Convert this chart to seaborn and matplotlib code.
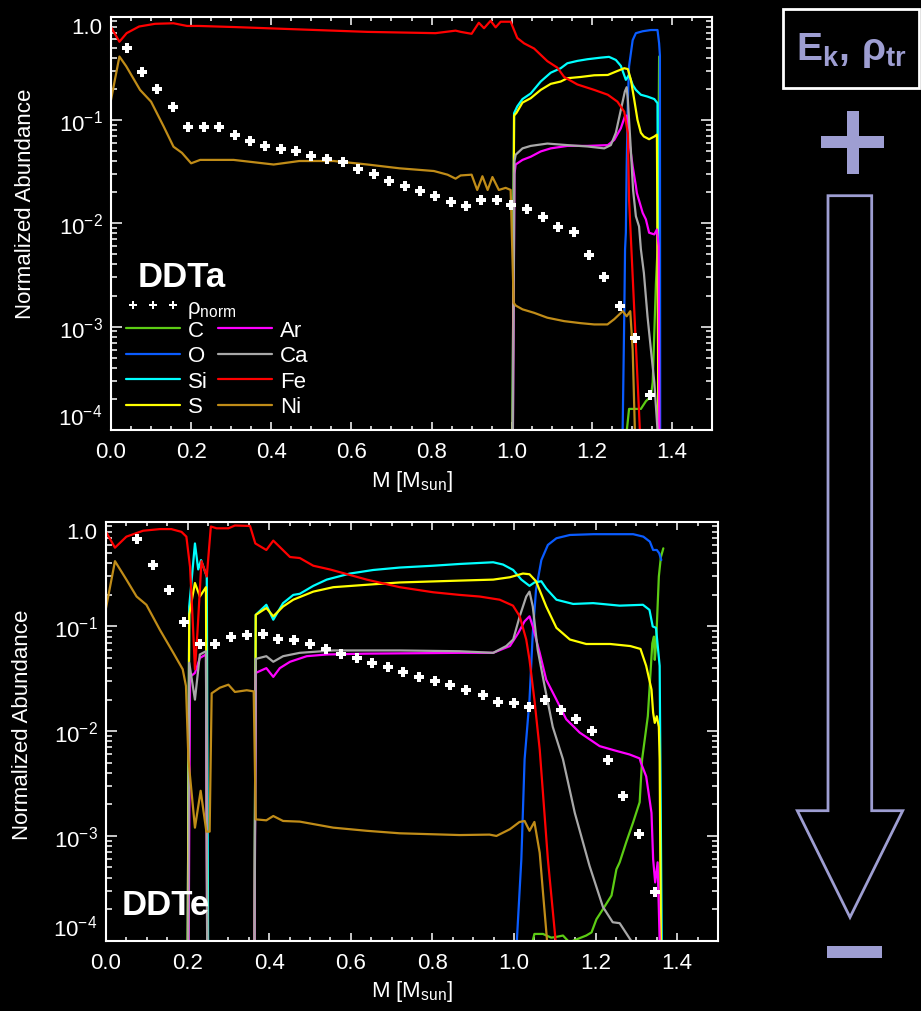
import numpy as np
import matplotlib
matplotlib.use("Agg")
import matplotlib.pyplot as plt
import seaborn as sns
from matplotlib.ticker import MultipleLocator, LogLocator, FuncFormatter, NullFormatter
from matplotlib.lines import Line2D
from matplotlib.patches import Rectangle, Polygon

# ---------------- data: DDTa (top panel) ----------------
a_C_x = [1.28, 1.2875, 1.293, 1.3225, 1.335, 1.3475, 1.352, 1.356, 1.36, 1.364, 1.367, 1.368]
a_C_y = [1e-6, 1e-4, 0.00016, 0.00016, 0.00019, 0.00021, 0.00029, 0.00087, 0.0026, 0.0056, 0.1, 0.41]

a_O_x = [1.27, 1.277, 1.281, 1.283, 1.285, 1.287, 1.29, 1.293, 1.302, 1.31, 1.327, 1.3475, 1.364, 1.368, 1.37, 1.371]
a_O_y = [1e-6, 1e-4, 0.00126, 0.0056, 0.0081, 0.035, 0.156, 0.33, 0.59, 0.69, 0.72, 0.74, 0.74, 0.55, 0.42, 1e-6]

a_Si_x = [1.0, 1.006, 1.014, 1.027, 1.0475, 1.0725, 1.0975, 1.1225, 1.139, 1.164, 1.189, 1.2225, 1.243,
          1.26, 1.2725, 1.285, 1.293, 1.302, 1.31, 1.3225, 1.339, 1.356, 1.364, 1.369]
a_Si_y = [1e-6, 0.116, 0.135, 0.159, 0.18, 0.235, 0.286, 0.316, 0.353, 0.372, 0.386, 0.40, 0.407,
          0.38, 0.333, 0.244, 0.272, 0.218, 0.195, 0.175, 0.168, 0.159, 0.145, 1e-6]

a_S_x = [1.0, 1.006, 1.012, 1.027, 1.0475, 1.0725, 1.0975, 1.1225, 1.139, 1.172, 1.206, 1.24, 1.26,
         1.281, 1.29, 1.2975, 1.306, 1.314, 1.3225, 1.33, 1.343, 1.356, 1.3625, 1.369]
a_S_y = [1e-6, 0.11, 0.117, 0.147, 0.162, 0.195, 0.223, 0.235, 0.253, 0.26, 0.27, 0.272, 0.293,
         0.316, 0.31, 0.244, 0.156, 0.10, 0.075, 0.069, 0.065, 0.069, 0.072, 1e-6]

a_Ar_x = [1.0, 1.007, 1.01, 1.027, 1.0475, 1.0725, 1.0975, 1.139, 1.189, 1.24, 1.256, 1.2725, 1.2825,
          1.287, 1.293, 1.302, 1.31, 1.3125, 1.327, 1.335, 1.343, 1.356, 1.3625, 1.367, 1.37]
a_Ar_y = [1e-6, 0.03, 0.037, 0.041, 0.044, 0.0495, 0.053, 0.056, 0.056, 0.057, 0.064, 0.083, 0.108,
          0.11, 0.064, 0.0355, 0.023, 0.0196, 0.0126, 0.0109, 0.0081, 0.0078, 0.0087, 0.006, 1e-6]

a_Ca_x = [1.0, 1.007, 1.01, 1.027, 1.0475, 1.089, 1.139, 1.189, 1.231, 1.2475, 1.26, 1.2725, 1.2825,
          1.287, 1.29, 1.2975, 1.303, 1.31, 1.318, 1.3225, 1.33, 1.339, 1.3475, 1.356, 1.364, 1.37]
a_Ca_y = [1e-6, 0.04, 0.046, 0.053, 0.056, 0.059, 0.057, 0.0553, 0.053, 0.057, 0.075, 0.125, 0.188,
          0.207, 0.156, 0.051, 0.021, 0.0117, 0.0093, 0.0056, 0.0033, 0.00126, 0.0006, 0.00029, 1e-4, 1e-6]

a_Fe_x = [0.0, 0.021, 0.039, 0.07, 0.11, 0.156, 0.19, 0.22, 0.31, 0.47, 0.64, 0.81, 0.86, 0.873, 0.90,
          0.918, 0.931, 0.9475, 0.96, 0.9725, 0.9975, 1.014, 1.031, 1.056, 1.089, 1.114, 1.131, 1.164,
          1.206, 1.24, 1.264, 1.281, 1.29, 1.293, 1.32, 1.33]
a_Fe_y = [0.79, 0.57, 0.69, 0.80, 0.85, 0.86, 0.81, 0.81, 0.79, 0.75, 0.71, 0.69, 0.73, 0.71, 0.68,
          0.87, 0.77, 0.91, 0.785, 0.89, 0.89, 0.62, 0.55, 0.49, 0.37, 0.32, 0.26, 0.22,
          0.195, 0.175, 0.15, 0.12, 0.074, 0.017, 1e-4, 1e-6]

a_Ni_x = [0.0, 0.021, 0.038, 0.0725, 0.10, 0.131, 0.156, 0.177, 0.20, 0.2225, 0.306, 0.406, 0.47, 0.556,
          0.64, 0.72, 0.806, 0.84, 0.86, 0.8725, 0.90, 0.914, 0.927, 0.94, 0.952, 0.968, 0.985, 0.9975,
          1.005, 1.01, 1.027, 1.056, 1.089, 1.131, 1.1725, 1.206, 1.239, 1.256, 1.277, 1.287, 1.296,
          1.302, 1.3075, 1.315]
a_Ni_y = [0.156, 0.41, 0.33, 0.195, 0.15, 0.087, 0.055, 0.048, 0.038, 0.041, 0.041, 0.037, 0.040, 0.040,
          0.037, 0.034, 0.032, 0.0295, 0.027, 0.029, 0.0295, 0.021, 0.0285, 0.021, 0.028, 0.021, 0.022, 0.021,
          0.0017, 0.0016, 0.00147, 0.00136, 0.00122, 0.00113, 0.00108, 0.00105, 0.00105, 0.00118, 0.00141,
          0.00126, 0.00141, 0.0006, 1e-4, 1e-6]

a_rho_x = [0.039, 0.078, 0.116, 0.154, 0.193, 0.232, 0.27, 0.31, 0.3475, 0.385, 0.424, 0.462, 0.50,
           0.539, 0.578, 0.617, 0.656, 0.694, 0.733, 0.77, 0.808, 0.8475, 0.885, 0.924, 0.9625, 0.999,
           1.039, 1.077, 1.116, 1.156, 1.193, 1.231, 1.271, 1.308, 1.346]
a_rho_y = [0.50, 0.293, 0.198, 0.133, 0.085, 0.085, 0.085, 0.072, 0.062, 0.056, 0.0525, 0.0495, 0.045,
           0.042, 0.039, 0.0337, 0.030, 0.0255, 0.0228, 0.0204, 0.0182, 0.0161, 0.0148, 0.0167, 0.0167,
           0.015, 0.0136, 0.0115, 0.0092, 0.0082, 0.0049, 0.0030, 0.0016, 0.00077, 0.00022]

# ---------------- data: DDTe (bottom panel) ----------------
e_C_x = [1.04, 1.046, 1.05, 1.071, 1.091, 1.1, 1.12, 1.132, 1.138, 1.145, 1.177, 1.19, 1.202, 1.218,
         1.239, 1.251, 1.259, 1.275, 1.292, 1.308, 1.314, 1.328, 1.339, 1.343, 1.345, 1.348, 1.355,
         1.36, 1.366]
e_C_y = [1e-6, 1e-4, 0.000116, 0.000116, 0.000107, 0.000108, 0.000112, 1e-4, 6e-5, 1e-4, 0.000112,
         0.00012, 0.00016, 0.0002, 0.00027, 0.00048, 0.00056, 0.00087, 0.00135, 0.0021, 0.0054, 0.0139,
         0.069, 0.08, 0.048, 0.065, 0.30, 0.46, 0.557]

e_O_x = [1.0, 1.007, 1.018, 1.026, 1.038, 1.046, 1.054, 1.067, 1.083, 1.104, 1.137, 1.194, 1.292,
         1.317, 1.333, 1.341, 1.35, 1.356, 1.361]
e_O_y = [1e-6, 1e-4, 0.0006, 0.0054, 0.02, 0.086, 0.224, 0.43, 0.60, 0.695, 0.747, 0.76, 0.76,
         0.72, 0.645, 0.537, 0.537, 0.50, 0.43]

e_Si_x = [0.198, 0.204, 0.218, 0.226, 0.233, 0.247, 0.252, 0.362, 0.367, 0.393, 0.41, 0.434, 0.459,
          0.475, 0.508, 0.541, 0.598, 0.655, 0.72, 0.802, 0.867, 0.949, 0.973, 0.998, 1.018, 1.038,
          1.05, 1.067, 1.079, 1.104, 1.145, 1.194, 1.259, 1.316, 1.332, 1.34, 1.348, 1.357, 1.362, 1.365]
e_Si_y = [1e-6, 0.155, 0.62, 0.35, 0.43, 0.30, 1e-6, 1e-6, 0.129, 0.161, 0.116, 0.167, 0.20,
          0.205, 0.244, 0.28, 0.32, 0.346, 0.365, 0.38, 0.395, 0.41, 0.39, 0.346, 0.28, 0.244,
          0.263, 0.27, 0.23, 0.18, 0.164, 0.167, 0.158, 0.161, 0.144, 0.10, 0.097, 0.042, 1e-4, 1e-6]

e_S_x = [0.198, 0.204, 0.218, 0.23, 0.245, 0.25, 0.362, 0.367, 0.393, 0.41, 0.434, 0.459, 0.508,
         0.557, 0.639, 0.72, 0.867, 0.949, 0.99, 1.022, 1.038, 1.054, 1.079, 1.104, 1.137, 1.177,
         1.236, 1.285, 1.31, 1.324, 1.337, 1.341, 1.345, 1.35, 1.355, 1.357, 1.36, 1.363]
e_S_y = [1e-6, 0.13, 0.26, 0.193, 0.237, 1e-6, 1e-6, 0.129, 0.15, 0.125, 0.155, 0.18, 0.215,
         0.237, 0.25, 0.263, 0.274, 0.28, 0.295, 0.32, 0.315, 0.27, 0.155, 0.097, 0.075, 0.068,
         0.068, 0.065, 0.061, 0.042, 0.025, 0.015, 0.012, 0.0139, 0.011, 0.0054, 1e-4, 1e-6]

e_Ar_x = [0.2, 0.206, 0.218, 0.23, 0.245, 0.25, 0.362, 0.367, 0.393, 0.41, 0.426, 0.451, 0.492, 0.541,
          0.639, 0.867, 0.949, 0.99, 1.01, 1.026, 1.038, 1.046, 1.063, 1.079, 1.104, 1.128, 1.161,
          1.21, 1.25, 1.283, 1.308, 1.311, 1.324, 1.337, 1.341, 1.346, 1.352, 1.357, 1.36]
e_Ar_y = [1e-6, 0.033, 0.036, 0.05, 0.054, 1e-6, 1e-6, 0.036, 0.04, 0.033, 0.04, 0.046, 0.052, 0.054,
          0.055, 0.056, 0.056, 0.065, 0.086, 0.112, 0.125, 0.10, 0.056, 0.031, 0.02, 0.013, 0.0097,
          0.0072, 0.0065, 0.006, 0.0055, 0.005, 0.0037, 0.00166, 0.0006, 0.00036, 0.00056, 1e-4, 1e-6]

e_Ca_x = [0.2, 0.204, 0.218, 0.23, 0.245, 0.25, 0.362, 0.367, 0.393, 0.41, 0.434, 0.475, 0.557, 0.72,
          0.867, 0.949, 0.981, 0.998, 1.014, 1.03, 1.038, 1.046, 1.058, 1.075, 1.095, 1.12, 1.149,
          1.185, 1.218, 1.242, 1.259, 1.287, 1.295]
e_Ca_y = [1e-6, 0.045, 0.02, 0.054, 0.058, 1e-6, 1e-6, 0.049, 0.052, 0.046, 0.052, 0.056, 0.059, 0.059,
          0.058, 0.056, 0.065, 0.075, 0.125, 0.193, 0.215, 0.155, 0.06, 0.027, 0.011, 0.0054, 0.00166,
          0.00052, 0.00021, 0.00015, 0.000147, 1e-4, 1e-6]

e_Fe_x = [0.0, 0.022, 0.05, 0.091, 0.132, 0.16, 0.185, 0.197, 0.206, 0.212, 0.218, 0.224, 0.234, 0.247,
          0.257, 0.271, 0.30, 0.316, 0.353, 0.366, 0.393, 0.41, 0.451, 0.475, 0.508, 0.549, 0.598,
          0.639, 0.72, 0.802, 0.867, 0.916, 0.965, 0.9975, 1.014, 1.03, 1.038, 1.05, 1.063, 1.083,
          1.102, 1.11]
e_Fe_y = [0.80, 0.565, 0.72, 0.82, 0.85, 0.85, 0.80, 0.72, 0.37, 0.125, 0.039, 0.086, 0.42, 0.30,
          0.90, 0.865, 0.865, 0.92, 0.91, 0.62, 0.537, 0.66, 0.46, 0.45, 0.38, 0.35, 0.31,
          0.28, 0.237, 0.212, 0.20, 0.193, 0.18, 0.158, 0.125, 0.075, 0.048, 0.02, 0.0067, 0.0006,
          1e-4, 1e-6]

e_Ni_x = [0.0, 0.022, 0.05, 0.075, 0.099, 0.132, 0.165, 0.188, 0.196, 0.202, 0.218, 0.232, 0.246, 0.254,
          0.259, 0.279, 0.30, 0.316, 0.345, 0.362, 0.367, 0.393, 0.41, 0.434, 0.475, 0.557, 0.639,
          0.72, 0.867, 0.94, 0.957, 0.99, 1.0135, 1.026, 1.038, 1.05, 1.063, 1.071, 1.081, 1.09]
e_Ni_y = [0.15, 0.42, 0.28, 0.193, 0.161, 0.093, 0.056, 0.039, 0.027, 0.0054, 0.0012, 0.0027, 0.0011,
          0.0011, 0.023, 0.026, 0.0278, 0.0237, 0.0246, 0.024, 0.00144, 0.00141, 0.00155, 0.00139,
          0.00137, 0.0012, 0.00112, 0.00106, 0.00102, 0.00103, 0.001, 0.00116, 0.00136, 0.00139,
          0.00112, 0.00136, 0.00069, 0.00029, 1e-4, 1e-6]

e_rho_x = [0.075, 0.114, 0.154, 0.191, 0.23, 0.268, 0.307, 0.346, 0.385, 0.422, 0.46, 0.499, 0.538,
           0.577, 0.615, 0.653, 0.691, 0.729, 0.767, 0.806, 0.844, 0.883, 0.923, 0.96, 1.0, 1.037,
           1.077, 1.115, 1.153, 1.192, 1.23, 1.268, 1.306, 1.345]
e_rho_y = [0.68, 0.39, 0.224, 0.11, 0.068, 0.068, 0.0785, 0.083, 0.0846, 0.076, 0.0735, 0.068, 0.061,
           0.055, 0.050, 0.045, 0.0407, 0.0368, 0.033, 0.030, 0.0274, 0.0246, 0.0224, 0.0189, 0.0184,
           0.017, 0.02, 0.0161, 0.0131, 0.01, 0.0053, 0.0024, 0.00104, 0.00029]

elements = ["C", "O", "Si", "S", "Ar", "Ca", "Fe", "Ni"]
element_colors = ["#5ccc14", "#0a5cff", "#00ffff", "#ffff00", "#ff00ff", "#a8a8a8", "#ff0000", "#c08c18"]
x_ticks = [0.0, 0.2, 0.4, 0.6, 0.8, 1.0, 1.2, 1.4]
panel_names = ["DDTa", "DDTe"]

panel_a = {"C": (a_C_x, a_C_y), "O": (a_O_x, a_O_y), "Si": (a_Si_x, a_Si_y), "S": (a_S_x, a_S_y),
           "Ar": (a_Ar_x, a_Ar_y), "Ca": (a_Ca_x, a_Ca_y), "Fe": (a_Fe_x, a_Fe_y), "Ni": (a_Ni_x, a_Ni_y)}
panel_e = {"C": (e_C_x, e_C_y), "O": (e_O_x, e_O_y), "Si": (e_Si_x, e_Si_y), "S": (e_S_x, e_S_y),
           "Ar": (e_Ar_x, e_Ar_y), "Ca": (e_Ca_x, e_Ca_y), "Fe": (e_Fe_x, e_Fe_y), "Ni": (e_Ni_x, e_Ni_y)}

# ---------------- style ----------------
sns.set_style("ticks")
plt.rcParams["font.family"] = ["Liberation Sans", "DejaVu Sans"]
plt.rcParams["mathtext.fontset"] = "custom"
plt.rcParams["mathtext.rm"] = "Liberation Sans"
plt.rcParams["mathtext.it"] = "Liberation Sans:italic"
plt.rcParams["mathtext.bf"] = "Liberation Sans:bold"

W, H = 921, 1012
fig = plt.figure(figsize=(W / 100, H / 100), dpi=100, facecolor="black")


def fx(px):
    return px / W


def fy(py):
    return 1 - py / H


axA = fig.add_axes([fx(111), fy(431), (712 - 111) / W, (431 - 17.5) / H])
axE = fig.add_axes([fx(106), fy(941.7), (718 - 106) / W, (941.7 - 522.7) / H])

FS = 16


def yfmt(v, pos):
    if abs(v - 1.0) < 1e-9:
        return "1.0"
    return r"10$^{%d}$" % int(round(np.log10(v)))


def style_axes(ax, ylab_xy):
    ax.set_facecolor("black")
    ax.set_yscale("log")
    ax.set_xlim(0, 1.5)
    ax.set_ylim(1e-4, 1.0)
    for sp in ax.spines.values():
        sp.set_color("white")
        sp.set_linewidth(1.5)
        sp.set_visible(True)
    ax.set_xticks(x_ticks)
    ax.xaxis.set_minor_locator(MultipleLocator(0.05))
    ax.xaxis.set_major_formatter(FuncFormatter(lambda v, p: "%.1f" % v))
    ax.yaxis.set_major_locator(LogLocator(base=10, numticks=10))
    ax.yaxis.set_minor_locator(LogLocator(base=10, subs=np.arange(2, 10), numticks=10))
    ax.yaxis.set_major_formatter(FuncFormatter(yfmt))
    ax.yaxis.set_minor_formatter(NullFormatter())
    ax.tick_params(which="both", direction="in", top=True, right=True, colors="white",
                   labelsize=FS, width=1.1)
    ax.tick_params(axis="x", which="major", length=5.8, pad=8)
    ax.tick_params(axis="x", which="minor", length=2.9)
    ax.tick_params(axis="y", which="major", length=8.0, pad=6)
    ax.tick_params(axis="y", which="minor", length=4.3)
    ax.set_xlabel(r"M [M$_{\rm sun}$]", color="white", fontsize=FS, labelpad=4)
    ax.set_ylabel("Normalized Abundance", color="white", fontsize=FS)
    ax.yaxis.set_label_coords(*ylab_xy)


def draw_panel(ax, data, rho_x, rho_y):
    for name, col in zip(elements, element_colors):
        xs, ys = data[name]
        sns.lineplot(x=xs, y=ys, color=col, lw=1.6, estimator=None, sort=False,
                     legend=False, ax=ax, label=name)
    sns.scatterplot(x=rho_x, y=rho_y, marker="P", s=50, color="white", linewidth=0,
                    legend=False, ax=ax, zorder=10)


style_axes(axA, (-0.125, 0.55))
style_axes(axE, (-0.119, 0.517))
draw_panel(axA, panel_a, a_rho_x, a_rho_y)
draw_panel(axE, panel_e, e_rho_x, e_rho_y)
for ax in (axA, axE):
    ax.set_xlim(0, 1.5)
    ax.set_ylim(1e-4, 1.0)

axA.text(0.045, 0.348, panel_names[0], transform=axA.transAxes, fontsize=25,
         fontweight="bold", color="white", va="baseline")
axE.text(0.026, 0.064, panel_names[1], transform=axE.transAxes, fontsize=25,
         fontweight="bold", color="white", va="baseline")

# legends (top panel)
rho_handle = Line2D([], [], ls="none", marker="P", markersize=5.5, color="white", mew=0)
leg1 = axA.legend([rho_handle], [r"ρ$_{\rm norm}$"], loc="upper left",
                  bbox_to_anchor=(0.025, 0.322), frameon=False, fontsize=FS, numpoints=3,
                  handlelength=2.43, handletextpad=0.3, borderpad=0, borderaxespad=0,
                  labelcolor="white")
axA.add_artist(leg1)
line_handles = [Line2D([], [], color=c, lw=1.6) for c in element_colors]
axA.legend(line_handles, elements, loc="upper left", bbox_to_anchor=(0.025, 0.266),
           ncol=2, frameon=False, fontsize=FS, handlelength=2.43, handletextpad=0.36,
           columnspacing=0.45, labelspacing=0.2, borderpad=0, borderaxespad=0,
           labelcolor="white")

# ---------------- right-hand annotation ----------------
LAV = "#9e9ed2"
fig.add_artist(Rectangle((fx(783), fy(89)), (919 - 783) / W, (89 - 10) / H,
                         transform=fig.transFigure, fill=False, edgecolor="white", lw=2.0))
fig.text(fx(851), fy(50), r"$\mathbf{E_k,\,ρ_{tr}}$", color=LAV, fontsize=28,
         ha="center", va="center")
# plus sign
fig.add_artist(Rectangle((fx(821), fy(148.5)), (884 - 821) / W, 11.7 / H,
                         transform=fig.transFigure, facecolor=LAV, edgecolor="none"))
fig.add_artist(Rectangle((fx(847), fy(174.5)), 11.5 / W, (174.5 - 111.7) / H,
                         transform=fig.transFigure, facecolor=LAV, edgecolor="none"))
# hollow arrow
arrow_pts = [(828, 196.7), (871.7, 196.7), (871.7, 811.7), (902.7, 811.7), (850, 918.3),
             (797.3, 811.7), (828, 811.7)]
fig.add_artist(Polygon([(fx(px), fy(py)) for px, py in arrow_pts], closed=True,
                       transform=fig.transFigure, fill=False, edgecolor=LAV, lw=2.0,
                       joinstyle="miter"))
# minus sign
fig.add_artist(Rectangle((fx(827), fy(959.3)), (881.7 - 827) / W, 12 / H,
                         transform=fig.transFigure, facecolor=LAV, edgecolor="none"))

# end labels of the y axes sit inside the frame, as in the reference
fig.canvas.draw()
for ax in (axA, axE):
    for t in ax.yaxis.get_major_ticks():
        loc = t.get_loc()
        if np.isclose(loc, 1.0):
            t.label1.set_va("top")
        elif np.isclose(loc, 1e-4):
            t.label1.set_va("bottom")

fig.savefig("out.png", dpi=100, facecolor="black")
